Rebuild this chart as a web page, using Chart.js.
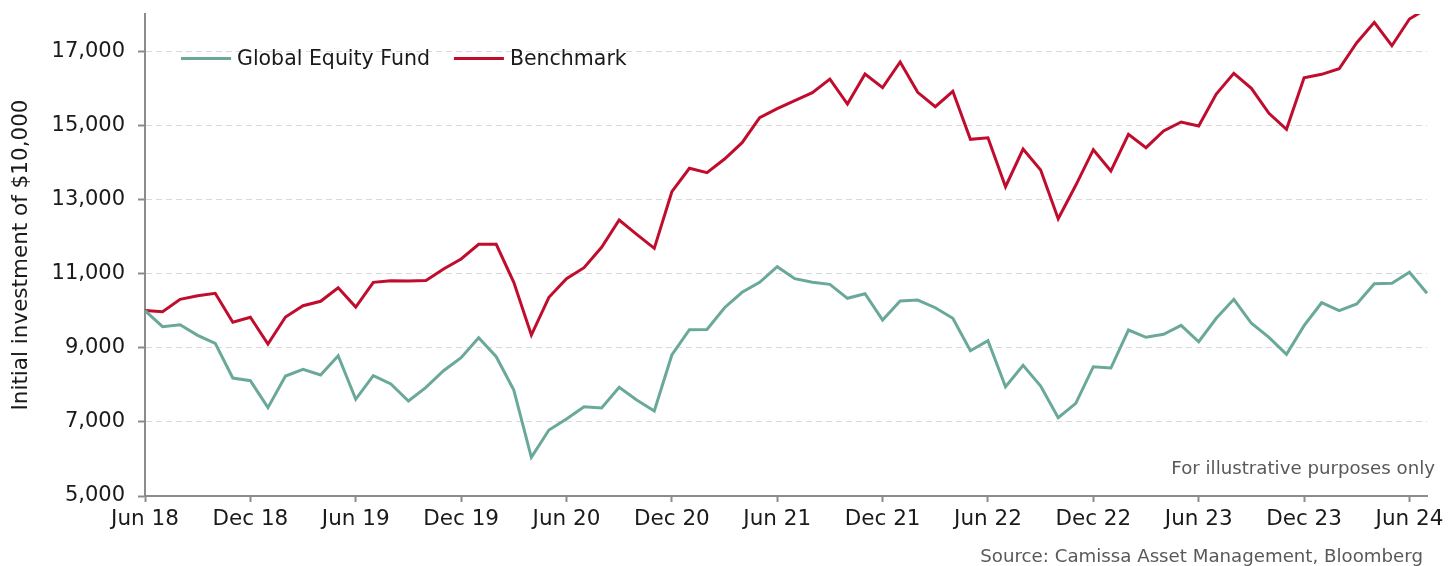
<!DOCTYPE html>
<html>
<head>
<meta charset="utf-8">
<title>Global Equity Fund vs Benchmark</title>
<script src="https://cdn.jsdelivr.net/npm/chart.js@4.4.1/dist/chart.umd.min.js"></script>
<style>
  html, body { margin: 0; padding: 0; background: #fff; }
  #wrap { width: 1448px; height: 566px; position: relative; }
</style>
</head>
<body>
<div id="wrap"><canvas id="growthChart"></canvas></div>
<script>
const months = [
    'Jun 18', 'Jul 18', 'Aug 18', 'Sep 18', 'Oct 18', 'Nov 18', 'Dec 18',
    'Jan 19', 'Feb 19', 'Mar 19', 'Apr 19', 'May 19', 'Jun 19', 'Jul 19', 'Aug 19', 'Sep 19', 'Oct 19', 'Nov 19', 'Dec 19',
    'Jan 20', 'Feb 20', 'Mar 20', 'Apr 20', 'May 20', 'Jun 20', 'Jul 20', 'Aug 20', 'Sep 20', 'Oct 20', 'Nov 20', 'Dec 20',
    'Jan 21', 'Feb 21', 'Mar 21', 'Apr 21', 'May 21', 'Jun 21', 'Jul 21', 'Aug 21', 'Sep 21', 'Oct 21', 'Nov 21', 'Dec 21',
    'Jan 22', 'Feb 22', 'Mar 22', 'Apr 22', 'May 22', 'Jun 22', 'Jul 22', 'Aug 22', 'Sep 22', 'Oct 22', 'Nov 22', 'Dec 22',
    'Jan 23', 'Feb 23', 'Mar 23', 'Apr 23', 'May 23', 'Jun 23', 'Jul 23', 'Aug 23', 'Sep 23', 'Oct 23', 'Nov 23', 'Dec 23',
    'Jan 24', 'Feb 24', 'Mar 24', 'Apr 24', 'May 24', 'Jun 24', 'Jul 24'
];

const fundValues = [
    10000, 9566, 9620, 9334, 9118, 8182, 8110,
    7382, 8236, 8417, 8263, 8784, 7608, 8245, 8021, 7562, 7931, 8380, 8730,
    9270, 8757, 7859, 6043, 6780, 7077, 7409, 7373, 7931, 7589, 7292, 8803,
    9485, 9490, 10078, 10494, 10763, 11184, 10861, 10763, 10709, 10332, 10456, 9747,
    10259, 10286, 10078, 9792, 8919, 9188, 7948, 8525, 7967, 7112, 7500, 8487,
    8452, 9477, 9280, 9361, 9604, 9161, 9792, 10305, 9658, 9280, 8822, 9593,
    10213, 9998, 10178, 10726, 10740, 11033, 10467
];

const benchmarkValues = [
    10000, 9971, 10305, 10402, 10467, 9685, 9820,
    9099, 9828, 10132, 10251, 10618, 10097, 10763, 10807, 10800, 10815, 11122, 11392,
    11788, 11788, 10763, 9342, 10359, 10861, 11157, 11707, 12444, 12058, 11680, 13207,
    13838, 13719, 14089, 14529, 15203, 15446, 15661, 15877, 16246, 15572, 16381, 16012,
    16705, 15888, 15500, 15915, 14620, 14660, 13342, 14359, 13792, 12479, 13380, 14340,
    13765, 14755, 14394, 14844, 15087, 14979, 15842, 16400, 15996, 15321, 14890, 16282,
    16373, 16524, 17226, 17776, 17145, 17865, 18150
];

const seriesNames = ['Global Equity Fund', 'Benchmark'];
const yTicks = [5000, 7000, 9000, 11000, 13000, 15000, 17000];
const yAxisTitle = 'Initial investment of $10,000';
const noteText = 'For illustrative purposes only';
const sourceText = 'Source: Camissa Asset Management, Bloomberg';

const FUND_GREEN = '#6aa99a';
const BENCH_RED = '#c00d2e';
const AXIS_GREY = '#8c8c8c';
const TEXT_DARK = '#1a1a1a';

Chart.defaults.font.family = "Verdana, 'DejaVu Sans', sans-serif";
Chart.defaults.color = TEXT_DARK;

// legend inside the plot plus the two footnotes
const notesPlugin = {
    id: 'notes',
    afterDraw(chart) {
        const ctx = chart.ctx;
        const area = chart.chartArea;
        ctx.save();

        ctx.font = "20.5px Verdana, 'DejaVu Sans', sans-serif";
        ctx.textBaseline = 'middle';
        ctx.textAlign = 'left';
        let x = area.left + 36;
        const y = area.top + 44.5;
        chart.data.datasets.forEach(ds => {
            ctx.strokeStyle = ds.borderColor;
            ctx.lineWidth = 3;
            ctx.beginPath();
            ctx.moveTo(x, y);
            ctx.lineTo(x + 50, y);
            ctx.stroke();
            ctx.fillStyle = TEXT_DARK;
            ctx.fillText(ds.label, x + 56, y + 1);
            x += 56 + ctx.measureText(ds.label).width + 24;
        });

        ctx.font = "18.2px Verdana, 'DejaVu Sans', sans-serif";
        ctx.fillStyle = '#595959';
        ctx.textAlign = 'right';
        ctx.textBaseline = 'alphabetic';
        ctx.fillText(noteText, chart.width - 13, area.bottom - 22);
        ctx.fillText(sourceText, chart.width - 25, chart.height - 4);
        ctx.restore();
    }
};

const ctx = document.getElementById('growthChart').getContext('2d');

new Chart(ctx, {
    type: 'line',
    data: {
        labels: months,
        datasets: [{
            label: seriesNames[0],
            data: fundValues,
            borderColor: FUND_GREEN,
            backgroundColor: FUND_GREEN,
            borderWidth: 3,
            pointRadius: 0,
            tension: 0
        }, {
            label: seriesNames[1],
            data: benchmarkValues,
            borderColor: BENCH_RED,
            backgroundColor: BENCH_RED,
            borderWidth: 3,
            pointRadius: 0,
            tension: 0
        }]
    },
    options: {
        responsive: true,
        maintainAspectRatio: false,
        animation: false,
        locale: 'en-US',
        layout: {
            padding: { top: 14, right: 21, bottom: 0, left: 0 }
        },
        plugins: {
            legend: { display: false },
            tooltip: { enabled: false }
        },
        scales: {
            x: {
                type: 'category',
                offset: false,
                grid: {
                    display: true,
                    drawOnChartArea: false,
                    drawTicks: true,
                    tickLength: 6,
                    tickWidth: 2,
                    tickColor: AXIS_GREY
                },
                border: { display: true, color: AXIS_GREY, width: 2 },
                ticks: {
                    autoSkip: false,
                    maxRotation: 0,
                    minRotation: 0,
                    padding: 5,
                    color: TEXT_DARK,
                    font: { size: 21.5 },
                    callback: function (value) {
                        const label = this.getLabelForValue(value);
                        return (label.startsWith('Jun') || label.startsWith('Dec')) ? label : null;
                    }
                },
                afterFit: scale => {
                    scale.height = 70;
                    scale.paddingLeft = 0;
                    scale.paddingRight = 0;
                }
            },
            y: {
                min: 5000,
                max: 18000,
                grid: {
                    color: '#d9d9d9',
                    lineWidth: 1,
                    drawTicks: true,
                    tickLength: 7,
                    tickWidth: 2,
                    tickColor: AXIS_GREY
                },
                border: { display: true, color: AXIS_GREY, width: 2, dash: [6, 4] },
                afterBuildTicks: scale => {
                    scale.ticks = yTicks.map(v => ({ value: v }));
                },
                ticks: {
                    padding: 13,
                    color: TEXT_DARK,
                    font: { size: 21 },
                    callback: v => v.toLocaleString('en-US')
                },
                title: {
                    display: true,
                    text: yAxisTitle,
                    color: TEXT_DARK,
                    font: { size: 21.5 },
                    padding: { top: 9, bottom: 0 }
                },
                afterFit: scale => {
                    scale.width = 145;
                    scale.paddingTop = 0;
                    scale.paddingBottom = 0;
                }
            }
        }
    },
    plugins: [notesPlugin]
});
</script>
</body>
</html>
